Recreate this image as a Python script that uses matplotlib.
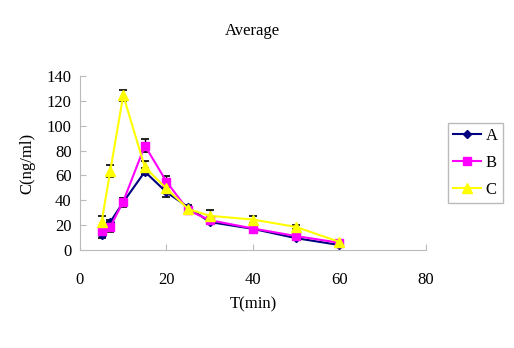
import matplotlib
matplotlib.use("Agg")
from matplotlib import pyplot as plt

# sampling times (min)
t = [5, 7, 10, 15, 20, 25, 30, 40, 50, 60]

# mean concentrations (ng/ml)
a_mean = [12, 22.5, 38.5, 63, 46.5, 34.5, 22.5, 17, 9.5, 4]
b_mean = [15.5, 18.5, 39, 84, 55, 32, 24, 17.3, 11.2, 5.8]
c_mean = [22.5, 63.5, 124.5, 66.5, 49.5, 33, 27.5, 24.5, 18.5, 6.5]

# error bars (SD)
a_err = [2, 2, 3.5, 3, 4, 2, 1.5, 1.5, 1.5, 1]
b_err = [2.5, 4, 3, 5.5, 4.5, 3, 2, 1.5, 1.5, 1]
c_err = [4.5, 5, 4.5, 5, 3, 2.5, 5, 3, 2, 1.5]

labels = ["A", "B", "C"]
xticks = [0, 20, 40, 60, 80]
yticks = [0, 20, 40, 60, 80, 100, 120, 140]

plt.rcParams['font.family'] = ['Liberation Serif', 'DejaVu Serif']

fig = plt.figure(figsize=(5.14, 3.48), dpi=100)
ax = fig.add_axes([0.1556, 0.2816, 0.6732, 0.50])

series = [
    (a_mean, a_err, "#000080", "D", 4.5),
    (b_mean, b_err, "#FF00FF", "s", 5.5),
    (c_mean, c_err, "#FFFF00", "^", 7),
]
for (m, e, col, mk, ms), lab in zip(series, labels):
    ax.errorbar(t, m, yerr=e, fmt="none", ecolor="black",
                elinewidth=1, capsize=3, capthick=1.2, zorder=2)
    ax.plot(t, m, color=col, marker=mk, markersize=ms, linewidth=1.5,
            label=lab, zorder=3)

ax.set_xlim(0, 80)
ax.set_ylim(0, 140)
ax.set_xticks(xticks)
ax.set_yticks(yticks)
for s in ["top", "right"]:
    ax.spines[s].set_visible(False)
for s in ["left", "bottom"]:
    ax.spines[s].set_color("#bbbbbb")
ax.tick_params(axis="both", direction="in", color="#bbbbbb", length=4,
               labelsize=12)
ax.tick_params(axis="x", pad=16)
ax.tick_params(axis="y", pad=6)

ax.set_xlabel("T(min)", fontsize=12, labelpad=6)
ax.set_ylabel("C(ng/ml)", fontsize=12, labelpad=8)
fig.text(0.492, 0.91, "Average", ha="center", va="center", fontsize=12)

leg = ax.legend(loc="upper left", bbox_to_anchor=(448 / 514, 1 - 123 / 348),
                bbox_transform=fig.transFigure, borderaxespad=0,
                frameon=True, fancybox=False, edgecolor="#aaaaaa",
                fontsize=12, handlelength=1.7, borderpad=0.3,
                labelspacing=0.65, handletextpad=0.25)
leg.get_frame().set_linewidth(1)

fig.savefig("out.png", dpi=100)
